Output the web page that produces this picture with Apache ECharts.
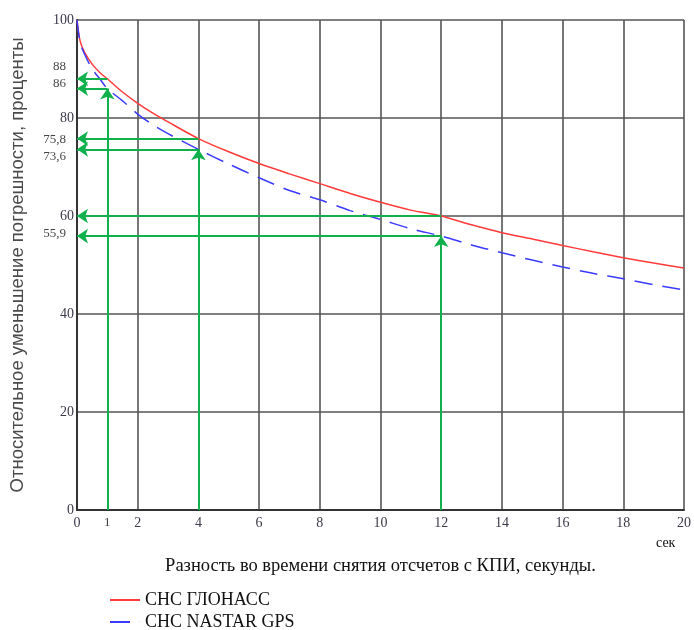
<!DOCTYPE html>
<html>
<head>
<meta charset="utf-8">
<script src="https://cdn.jsdelivr.net/npm/echarts@6/dist/echarts.min.js"></script>
<style>html,body{margin:0;padding:0;background:#fff}#main{width:694px;height:630px}</style>
</head>
<body>
<div id="main"></div>
<script>
// данные кривых
var xs      = [0, 0.1, 0.25, 0.5, 0.75, 1, 1.5, 2, 2.5, 3, 4, 5, 6, 7, 8, 9, 10, 11, 12, 13, 14, 15, 16, 17, 18, 19, 20];
var glonass = [100, 95.8, 93.4, 91.0, 89.3, 88, 85.3, 83, 81, 79.2, 75.8, 73.1, 70.7, 68.6, 66.6, 64.6, 62.8, 61.2, 60, 58.2, 56.6, 55.3, 54.0, 52.7, 51.5, 50.4, 49.4];
var gps     = [100, 95.5, 93, 90, 88, 86, 83.5, 80.8, 78.6, 76.8, 73.6, 70.6, 67.8, 65.2, 63.3, 61.1, 59.3, 57.4, 55.9, 54.1, 52.5, 51.0, 49.6, 48.3, 47.2, 46.0, 44.9];

// отметки (зелёные стрелки)
var markX  = [1, 4, 12];
var markHi = [88, 75.8, 60];
var markLo = [86, 73.6, 55.9];
var markLabels = [88, 86, 75.8, 73.6, 55.9];
var labelShift = [-12, -5, 1, 7, -3];

var seriesNames = ['СНС ГЛОНАСС', 'СНС NASTAR GPS'];
var green = '#10b04c';
var font = 'Liberation Serif';

function pairs(a, b) {
    var out = [];
    for (var i = 0; i < a.length; i++) out.push([a[i], b[i]]);
    return out;
}

var arrows = [];
for (var i = 0; i < markX.length; i++) {
    arrows.push([{coord: [markX[i], markHi[i]]}, {coord: [0, markHi[i]]}]);
    arrows.push([{coord: [markX[i], markLo[i]]}, {coord: [0, markLo[i]]}]);
    arrows.push([{coord: [markX[i], 0]}, {coord: [markX[i], markLo[i]]}]);
}

var labelData = [];
for (var j = 0; j < markLabels.length; j++) {
    labelData.push({
        value: [0, markLabels[j]],
        label: {show: true, position: 'left', distance: 11, offset: [0, labelShift[j]],
            formatter: String(markLabels[j]).replace('.', ',')}
    });
}
labelData.push({
    value: [markX[0], 0],
    label: {show: true, position: 'bottom', distance: 6, formatter: String(markX[0])}
});

var myChart = echarts.init(document.getElementById('main'));

option = {
    animation: false,
    grid: {left: 77, right: 10, top: 20, bottom: 120},
    legend: {
        data: [
            {name: seriesNames[0], icon: 'path://M0,0H30V2H0Z'},
            {name: seriesNames[1], icon: 'path://M0,0H20V2H0Z M29.9,0H30V2H29.9Z'}
        ],
        orient: 'vertical',
        left: 110,
        top: 591,
        height: 60,
        padding: 0,
        itemWidth: 30,
        itemHeight: 2,
        itemGap: 4,
        textStyle: {fontFamily: font, fontSize: 18, color: '#111'}
    },
    xAxis: {
        type: 'value',
        min: 0,
        max: 20,
        interval: 2,
        name: 'Разность во времени снятия отсчетов с КПИ, секунды.',
        nameLocation: 'middle',
        nameGap: 47,
        nameTextStyle: {fontFamily: font, fontSize: 18.5, color: '#111'},
        axisLine: {lineStyle: {color: '#333', width: 2}},
        axisTick: {show: false},
        axisLabel: {fontFamily: font, fontSize: 14, color: '#3a3a4a', margin: 6},
        splitLine: {lineStyle: {color: '#555', width: 1.6}}
    },
    yAxis: {
        type: 'value',
        min: 0,
        max: 100,
        interval: 20,
        name: 'Относительное уменьшение погрешности, проценты',
        nameLocation: 'middle',
        nameGap: 50,
        nameTextStyle: {fontFamily: 'Liberation Sans', fontSize: 18.5, color: '#4a4a4a'},
        axisLine: {show: true, lineStyle: {color: '#333', width: 2}},
        axisTick: {show: false},
        axisLabel: {fontFamily: font, fontSize: 14, color: '#3a3a4a', margin: 3},
        splitLine: {lineStyle: {color: '#555', width: 1.6}}
    },
    graphic: [{
        type: 'text',
        left: 656,
        top: 536,
        style: {text: 'сек', font: '14px "Liberation Serif"', fill: '#111'}
    }],
    series: [
        {
            name: seriesNames[0],
            type: 'line',
            data: pairs(xs, glonass),
            symbol: 'none',
            smooth: 0.3,
            z: 4,
            lineStyle: {color: '#ff3b3b', width: 1.5},
            itemStyle: {color: '#ff3b3b'}
        },
        {
            name: seriesNames[1],
            type: 'line',
            data: pairs(xs, gps),
            symbol: 'none',
            smooth: 0.3,
            z: 4,
            lineStyle: {color: '#3b3bff', width: 1.5, type: [18, 10]},
            itemStyle: {color: '#3b3bff'}
        },
        {
            name: 'arrows',
            type: 'line',
            data: [],
            z: 3,
            markLine: {
                silent: true,
                symbol: ['none', 'arrow'],
                symbolSize: 11,
                label: {show: false},
                lineStyle: {color: green, width: 2, type: 'solid'},
                data: arrows
            }
        },
        {
            name: 'labels',
            type: 'scatter',
            symbolSize: 0,
            silent: true,
            label: {fontFamily: font, fontSize: 13, color: '#111'},
            data: labelData
        }
    ]
};

myChart.setOption(option);
</script>
</body>
</html>
